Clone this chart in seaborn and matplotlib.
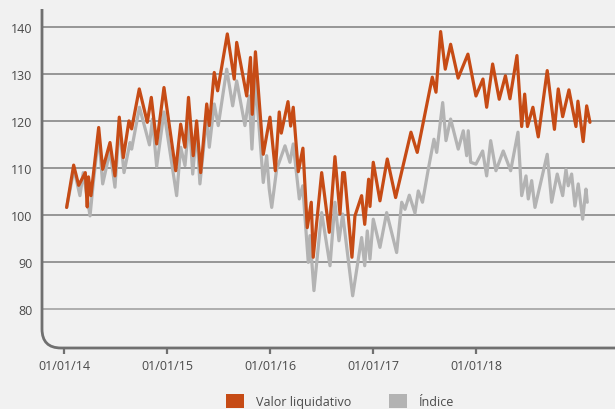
import numpy as np
import pandas as pd
import matplotlib
matplotlib.use("Agg")
import matplotlib.pyplot as plt
import matplotlib.dates as mdates
from matplotlib.patches import Patch, PathPatch
from matplotlib.path import Path
import seaborn as sns

# Fund NAV ("Valor liquidativo") vs. benchmark index, dates as decimal years
anio_valor = [2014.023, 2014.091, 2014.140, 2014.204, 2014.223, 2014.235, 2014.259, 2014.334,
              2014.373, 2014.444, 2014.492, 2014.534, 2014.573, 2014.628, 2014.654, 2014.728,
              2014.806, 2014.845, 2014.897, 2014.968, 2015.082, 2015.130, 2015.172, 2015.206,
              2015.252, 2015.285, 2015.324, 2015.383, 2015.408, 2015.456, 2015.489, 2015.583,
              2015.650, 2015.674, 2015.771, 2015.808, 2015.825, 2015.856, 2015.932, 2015.997,
              2016.049, 2016.087, 2016.107, 2016.172, 2016.198, 2016.223, 2016.272, 2016.317,
              2016.359, 2016.398, 2016.417, 2016.499, 2016.573, 2016.628, 2016.677, 2016.703,
              2016.720, 2016.793, 2016.822, 2016.887, 2016.917, 2016.955, 2016.968, 2017.000,
              2017.065, 2017.136, 2017.217, 2017.366, 2017.427, 2017.573, 2017.609, 2017.654,
              2017.699, 2017.751, 2017.824, 2017.919, 2017.997, 2018.065, 2018.101, 2018.159,
              2018.223, 2018.283, 2018.327, 2018.395, 2018.441, 2018.470, 2018.497, 2018.550,
              2018.602, 2018.689, 2018.759, 2018.796, 2018.839, 2018.900, 2018.968, 2018.987,
              2019.038, 2019.072, 2019.104]
valor_liquidativo = [101.7, 110.7, 106.4, 109.1, 101.8, 108.2, 104.2, 118.7,
                     109.8, 115.5, 108.4, 120.9, 112.3, 120.1, 118.4, 126.9,
                     119.8, 125.1, 115.2, 127.2, 109.5, 119.4, 114.5, 125.1,
                     112.7, 120.1, 109.1, 123.7, 119.1, 130.4, 126.5, 138.6,
                     129.0, 136.8, 125.4, 133.6, 121.5, 134.8, 113.0, 120.9,
                     109.5, 122.0, 117.5, 124.2, 119.0, 123.0, 109.3, 114.3,
                     97.4, 102.8, 91.1, 109.1, 96.4, 112.5, 100.3, 109.1,
                     109.1, 91.1, 99.9, 104.2, 98.1, 107.7, 101.9, 111.3,
                     103.1, 112.0, 103.8, 117.7, 113.4, 129.4, 126.2, 139.1,
                     131.1, 136.4, 129.2, 134.3, 125.4, 129.0, 123.0, 132.2,
                     124.7, 129.7, 124.8, 134.0, 118.9, 125.8, 118.9, 123.0,
                     116.7, 130.8, 118.3, 126.9, 121.0, 126.7, 118.9, 124.3,
                     115.7, 123.3, 119.8]

anio_indice = [2014.023, 2014.094, 2014.152, 2014.184, 2014.250, 2014.282, 2014.334, 2014.373,
               2014.444, 2014.492, 2014.534, 2014.580, 2014.638, 2014.654, 2014.730, 2014.827,
               2014.856, 2014.897, 2014.968, 2015.091, 2015.130, 2015.172, 2015.214, 2015.247,
               2015.285, 2015.317, 2015.383, 2015.408, 2015.456, 2015.495, 2015.577, 2015.635,
               2015.674, 2015.754, 2015.796, 2015.822, 2015.856, 2015.932, 2015.965, 2015.990,
               2016.014, 2016.062, 2016.143, 2016.191, 2016.223, 2016.282, 2016.315, 2016.369,
               2016.385, 2016.424, 2016.499, 2016.580, 2016.628, 2016.667, 2016.703, 2016.800,
               2016.887, 2016.917, 2016.942, 2016.968, 2017.000, 2017.065, 2017.130, 2017.227,
               2017.276, 2017.308, 2017.350, 2017.405, 2017.437, 2017.478, 2017.534, 2017.589,
               2017.616, 2017.674, 2017.706, 2017.751, 2017.825, 2017.874, 2017.907, 2017.922,
               2017.946, 2017.997, 2018.062, 2018.101, 2018.140, 2018.191, 2018.262, 2018.334,
               2018.405, 2018.441, 2018.483, 2018.505, 2018.538, 2018.570, 2018.689, 2018.732,
               2018.786, 2018.839, 2018.871, 2018.893, 2018.926, 2018.958, 2018.990, 2019.033,
               2019.065, 2019.078]
indice = [101.7, 109.8, 104.2, 109.1, 99.9, 107.0, 117.0, 106.7,
          113.7, 106.0, 119.1, 109.1, 115.5, 114.1, 123.0, 115.0,
          120.5, 110.4, 122.0, 104.2, 114.5, 110.6, 120.5, 108.8,
          118.4, 106.7, 120.9, 114.5, 123.7, 119.1, 131.1, 123.3,
          128.6, 119.1, 125.4, 114.1, 129.0, 107.0, 112.7, 105.6,
          101.7, 109.8, 114.8, 111.3, 115.2, 103.5, 106.3, 90.0,
          95.7, 84.0, 100.6, 89.3, 102.8, 94.6, 100.3, 82.9,
          95.3, 89.3, 96.7, 90.7, 99.2, 93.2, 100.6, 92.1,
          102.8, 101.3, 104.3, 100.5, 105.2, 102.8, 109.8, 116.2,
          113.4, 124.0, 115.9, 120.5, 114.1, 118.0, 112.7, 118.0,
          111.3, 110.9, 113.7, 108.4, 115.9, 109.5, 113.7, 109.5,
          117.7, 104.2, 108.4, 103.5, 107.4, 101.7, 113.0, 102.8,
          108.8, 104.2, 109.8, 106.3, 108.8, 102.0, 106.7, 99.2,
          105.6, 102.8]

series = ["Valor liquidativo", "Índice"]
colores = ["#c64b15", "#b3b3b3"]
y_ticks = [80, 90, 100, 110, 120, 130, 140]
x_ticks = ["2014-01-01", "2015-01-01", "2016-01-01", "2017-01-01", "2018-01-01"]


def a_fecha(anios):
    anios = np.asarray(anios)
    return pd.to_datetime("2014-01-01") + pd.to_timedelta((anios - 2014) * 365.25, unit="D")


df = pd.concat([
    pd.DataFrame({"fecha": a_fecha(anio_indice), "valor": indice, "serie": series[1]}),
    pd.DataFrame({"fecha": a_fecha(anio_valor), "valor": valor_liquidativo, "serie": series[0]}),
], ignore_index=True)

sns.set_theme(style="white")
plt.rcParams["font.family"] = ["Open Sans", "DejaVu Sans"]

BG = "#f1f1f1"
W, H = 615, 410
fig = plt.figure(figsize=(W / 100, H / 100), dpi=100, facecolor=BG)
left_px, right_px, top_px, bottom_px = 42, 615, 10, 349
ax = fig.add_axes([left_px / W, 1 - bottom_px / H, (right_px - left_px) / W, (bottom_px - top_px) / H])
ax.set_facecolor(BG)

for y in y_ticks:
    ax.axhline(y, color="#8f8f8f" if y != 80 else "#a8a8a8", lw=1.3, zorder=1)

sns.lineplot(data=df, x="fecha", y="valor", hue="serie", hue_order=[series[1], series[0]],
             palette={series[0]: colores[0], series[1]: colores[1]},
             estimator=None, sort=False, lw=2.3, legend=False, ax=ax, zorder=3)

ax.set_ylim(71.8, 143.9)
ax.set_xlim(pd.Timestamp("2013-10-14"), pd.Timestamp("2019-05-08"))
ax.set_yticks(y_ticks)
ax.set_xticks(pd.to_datetime(x_ticks))
ax.xaxis.set_major_formatter(mdates.DateFormatter("%d/%m/%y"))
ax.set_xlabel("")
ax.set_ylabel("")
ax.tick_params(axis="y", length=0, pad=7, labelsize=9, labelcolor="#4a4a4a")
ax.tick_params(axis="x", length=4, width=1.6, color="#707070", pad=4, labelsize=9,
               labelcolor="#4a4a4a", direction="out", bottom=True)
for s in ax.spines.values():
    s.set_visible(False)

# Axis frame with a rounded bottom-left corner
r = 19
fx = lambda px: px / W
fy = lambda py: 1 - py / H
verts = [(fx(left_px), fy(top_px)), (fx(left_px), fy(bottom_px - r)),
         (fx(left_px), fy(bottom_px)), (fx(left_px + r), fy(bottom_px)),
         (fx(right_px), fy(bottom_px))]
codes = [Path.MOVETO, Path.LINETO, Path.CURVE3, Path.CURVE3, Path.LINETO]
fig.add_artist(PathPatch(Path(verts, codes), transform=fig.transFigure, fill=False,
                         edgecolor="#707070", lw=2.0, capstyle="butt"))

handles = [Patch(facecolor=c, edgecolor="none") for c in colores]
fig.legend(handles, series, loc="center left", bbox_to_anchor=(226 / W, 1 - 402 / H),
           ncol=2, frameon=False, fontsize=9, handlelength=1.45, handleheight=1.45,
           handletextpad=0.95, columnspacing=3.0, borderpad=0, borderaxespad=0,
           labelcolor="#4a4a4a")

fig.savefig("out.png", dpi=100, facecolor=BG)
